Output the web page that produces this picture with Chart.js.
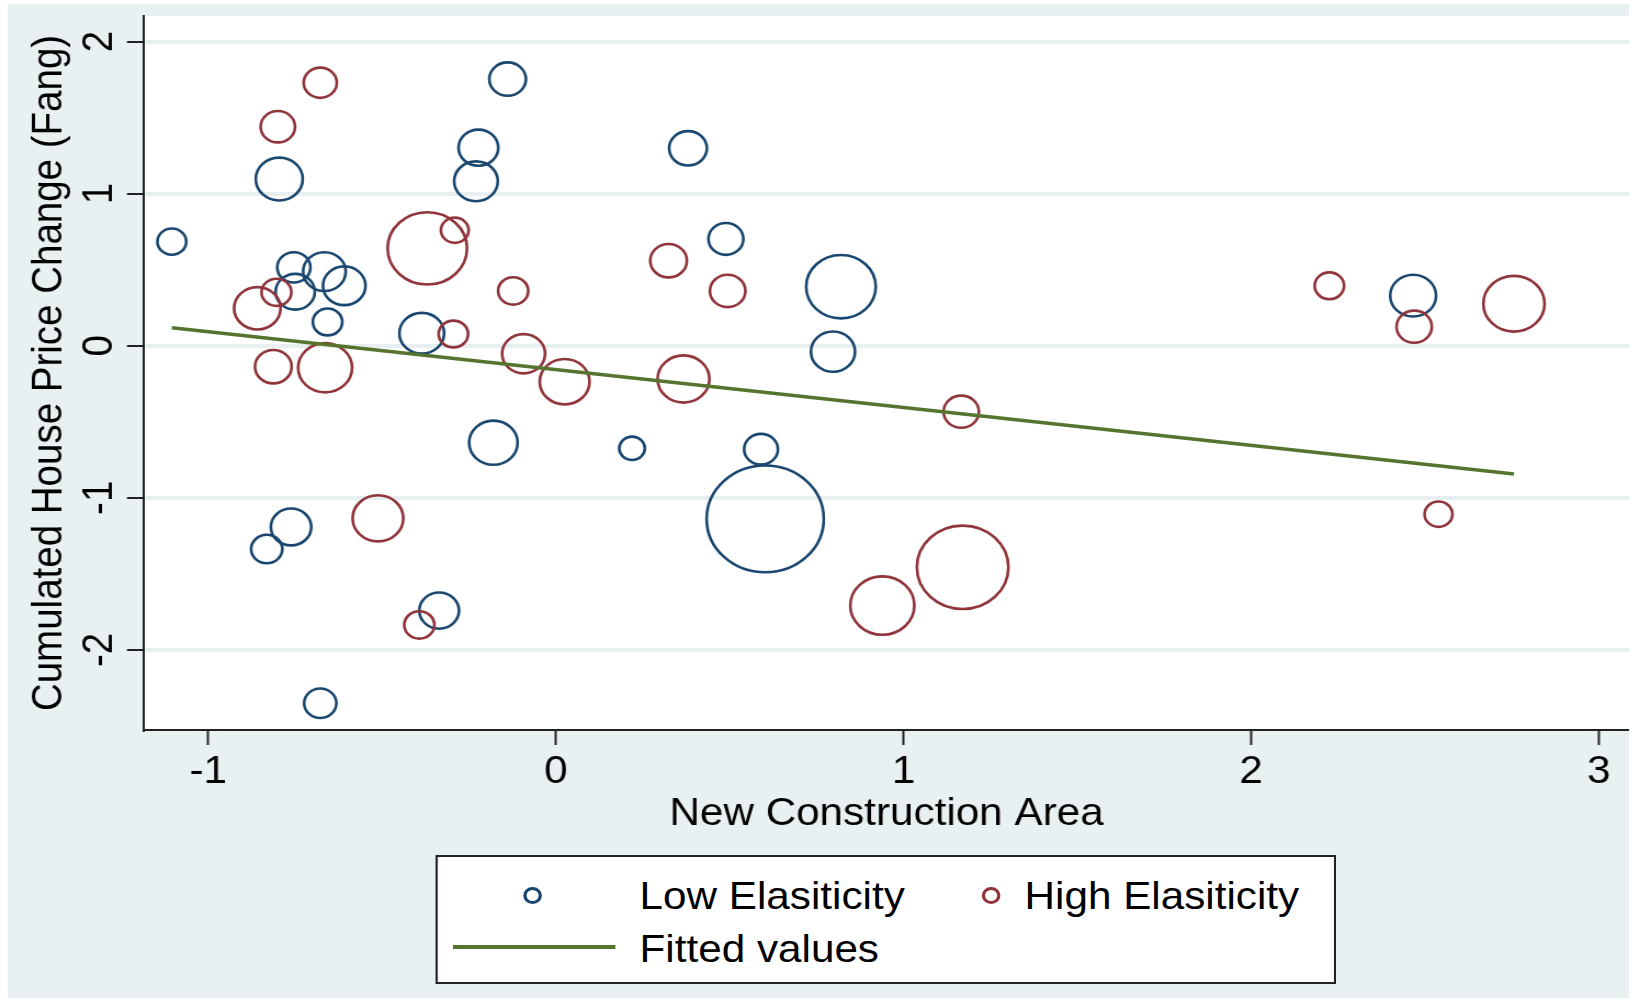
<!DOCTYPE html>
<html>
<head>
<meta charset="utf-8">
<script src="https://cdn.jsdelivr.net/npm/chart.js@4"></script>
<style>
html,body{margin:0;padding:0;background:#fff;overflow:hidden;}
#stage{position:absolute;left:0;top:0;width:1495px;height:1001px;transform:scaleX(1.09699);transform-origin:0 0;}
#bg{position:absolute;left:7.3px;top:4px;width:1477.7px;height:994px;background:#e9f0f2;}
#c{position:absolute;left:0;top:0;}
#legend{position:absolute;left:396.5px;top:855px;width:817px;height:125px;border:2px solid #222;background:#fff;
  font-family:"Liberation Sans",Arial,sans-serif;font-size:38.5px;line-height:38px;color:#000;}
#legend .mk{position:absolute;width:11px;height:11px;border:3px solid;border-radius:50%;}
#legend .tx{position:absolute;white-space:nowrap;}
#legend .ln{position:absolute;height:4px;}
</style>
</head>
<body>
<div id="stage">
  <div id="bg"></div>
  <canvas id="c" width="1495" height="1001"></canvas>
  <div id="legend"></div>
</div>
<script>
// ---- data ----
const lowLabel = 'Low Elasiticity';
const highLabel = 'High Elasiticity';
const fitLabel = 'Fitted values';
const xTitle = 'New Construction Area';
const yTitle = 'Cumulated House Price Change (Fang)';
const xTicks = [-1, 0, 1, 2, 3];
const yTicks = [-2, -1, 0, 1, 2];

const lowX = [-1.105, -0.139, -0.223, -0.796, -0.230, -0.754, -0.666, -0.609, -0.750, -0.657, -0.386, -0.180, 0.219, -0.762, -0.832, -0.336, -0.678, 0.380, 0.489, 0.820, 0.797, 2.466, 0.590, 0.602];
const lowY = [0.684, 1.753, 1.302, 1.096, 1.081, 0.515, 0.487, 0.394, 0.355, 0.156, 0.082, -0.638, -0.675, -1.192, -1.337, -1.742, -2.351, 1.298, 0.702, 0.388, -0.039, 0.329, -0.681, -1.139];
const lowWeight = [1.72, 2.79, 3.28, 4.58, 3.96, 2.28, 3.76, 3.76, 3.20, 1.80, 4.16, 4.88, 1.37, 3.39, 2.02, 3.28, 2.16, 2.96, 2.53, 10.05, 4.04, 4.37, 2.37, 28.5];

const highX = [-0.678, -0.800, -0.370, -0.291, -0.804, -0.859, -0.123, -0.295, -0.813, -0.664, -0.093, 0.025, -0.512, -0.393, 0.324, 0.494, 0.367, 2.225, 2.469, 2.756, 1.166, 0.939, 1.170, 2.539];
const highY = [1.729, 1.440, 0.640, 0.759, 0.351, 0.246, 0.360, 0.077, -0.138, -0.145, -0.053, -0.237, -1.135, -1.836, 0.559, 0.360, -0.219, 0.394, 0.125, 0.276, -0.434, -1.709, -1.457, -1.108];
const highWeight = [2.28, 2.46, 13.10, 1.59, 1.85, 4.49, 1.88, 1.80, 2.79, 6.05, 3.84, 5.15, 5.34, 1.88, 2.79, 2.62, 5.57, 1.80, 2.59, 7.78, 2.59, 8.53, 17.39, 1.61];

const fitX = [-1.105, 2.756];
const fitY = [0.118, -0.844];

// ---- styles ----
const NAVY = '#1a476f', MAROON = '#90353b', GREEN = '#55752f';
const FAMILY = '"Liberation Sans", Arial, sans-serif';
const FONT = {family: FAMILY, size: 38.5};

const bubbleScale = 10; // radius = bubbleScale * sqrt(weight)
const toPts = (xs, ys, ws) => xs.map((x, i) => ({x: x, y: ys[i], r: bubbleScale * Math.sqrt(ws[i])}));

const plotBg = {
  id: 'plotBg',
  beforeDraw(chart) {
    const {ctx, chartArea: a} = chart;
    ctx.save();
    ctx.fillStyle = '#ffffff';
    ctx.fillRect(a.left, a.top, a.right - a.left, a.bottom - a.top);
    ctx.restore();
  }
};

const chart = new Chart(document.getElementById('c'), {
  type: 'bubble',
  data: {
    datasets: [
      {type: 'line', label: fitLabel, data: fitX.map((x, i) => ({x: x, y: fitY[i]})),
       borderColor: GREEN, borderWidth: 3.5, pointRadius: 0, fill: false, order: 0},
      {label: highLabel, data: toPts(highX, highY, highWeight),
       borderColor: MAROON, backgroundColor: 'rgba(0,0,0,0)', borderWidth: 2.6, order: 1},
      {label: lowLabel, data: toPts(lowX, lowY, lowWeight),
       borderColor: NAVY, backgroundColor: 'rgba(0,0,0,0)', borderWidth: 2.6, order: 2}
    ]
  },
  options: {
    responsive: false,
    animation: false,
    devicePixelRatio: 1,
    events: [],
    layout: {autoPadding: false, padding: {left: 0, top: 16, right: 10.04, bottom: 161}},
    plugins: {legend: {display: false}, tooltip: {enabled: false}},
    scales: {
      x: {
        type: 'linear', position: 'bottom', min: -1.185, max: 3.087,
        afterBuildTicks: s => { s.ticks = xTicks.map(v => ({value: v})); },
        afterFit: s => { s.height = 110; s.paddingLeft = 0; s.paddingRight = 0; },
        grid: {drawOnChartArea: false, drawTicks: true, tickLength: 15, tickWidth: 2, tickColor: '#222'},
        border: {display: true, color: '#222', width: 2},
        ticks: {font: FONT, color: '#000', padding: 4, maxRotation: 0, minRotation: 0},
        title: {display: true, text: xTitle, color: '#000', font: {family: FAMILY, size: 38.5, lineHeight: 1}, padding: {top: 0, bottom: 6.75}}
      },
      y: {
        type: 'linear', position: 'left', min: -2.527, max: 2.168,
        afterBuildTicks: s => { s.ticks = yTicks.map(v => ({value: v})); },
        afterFit: s => { s.width = 131.27; s.paddingTop = 0; s.paddingBottom = 0; },
        grid: {color: '#e8eff1', lineWidth: 4, drawTicks: true, tickLength: 15.5, tickWidth: 2, tickColor: '#222'},
        border: {display: true, color: '#222', width: 2},
        ticks: {font: FONT, color: '#000', padding: 7.7, minRotation: 90, maxRotation: 90, crossAlign: 'center'},
        title: {display: true, text: yTitle, color: '#000', font: {family: FAMILY, size: 38.5, lineHeight: 1}, padding: {top: 26.6, bottom: 0}}
      }
    }
  },
  plugins: [plotBg]
});

// ---- legend (built from dataset labels/colours) ----
const ds = chart.data.datasets;
const lg = document.getElementById('legend');
function add(cls, style, text) {
  const d = document.createElement('div');
  d.className = cls;
  Object.assign(d.style, style);
  if (text) d.textContent = text;
  lg.appendChild(d);
}
add('mk', {left: '78.6px', top: '29.5px', borderColor: ds[2].borderColor});
add('tx', {left: '184.5px', top: '20.2px'}, ds[2].label);
add('mk', {left: '496px', top: '29.5px', borderColor: ds[1].borderColor});
add('tx', {left: '535.5px', top: '20.2px'}, ds[1].label);
add('ln', {left: '14.1px', top: '88px', width: '148.7px', background: ds[0].borderColor});
add('tx', {left: '184.5px', top: '73.4px'}, ds[0].label);
</script>
</body>
</html>
